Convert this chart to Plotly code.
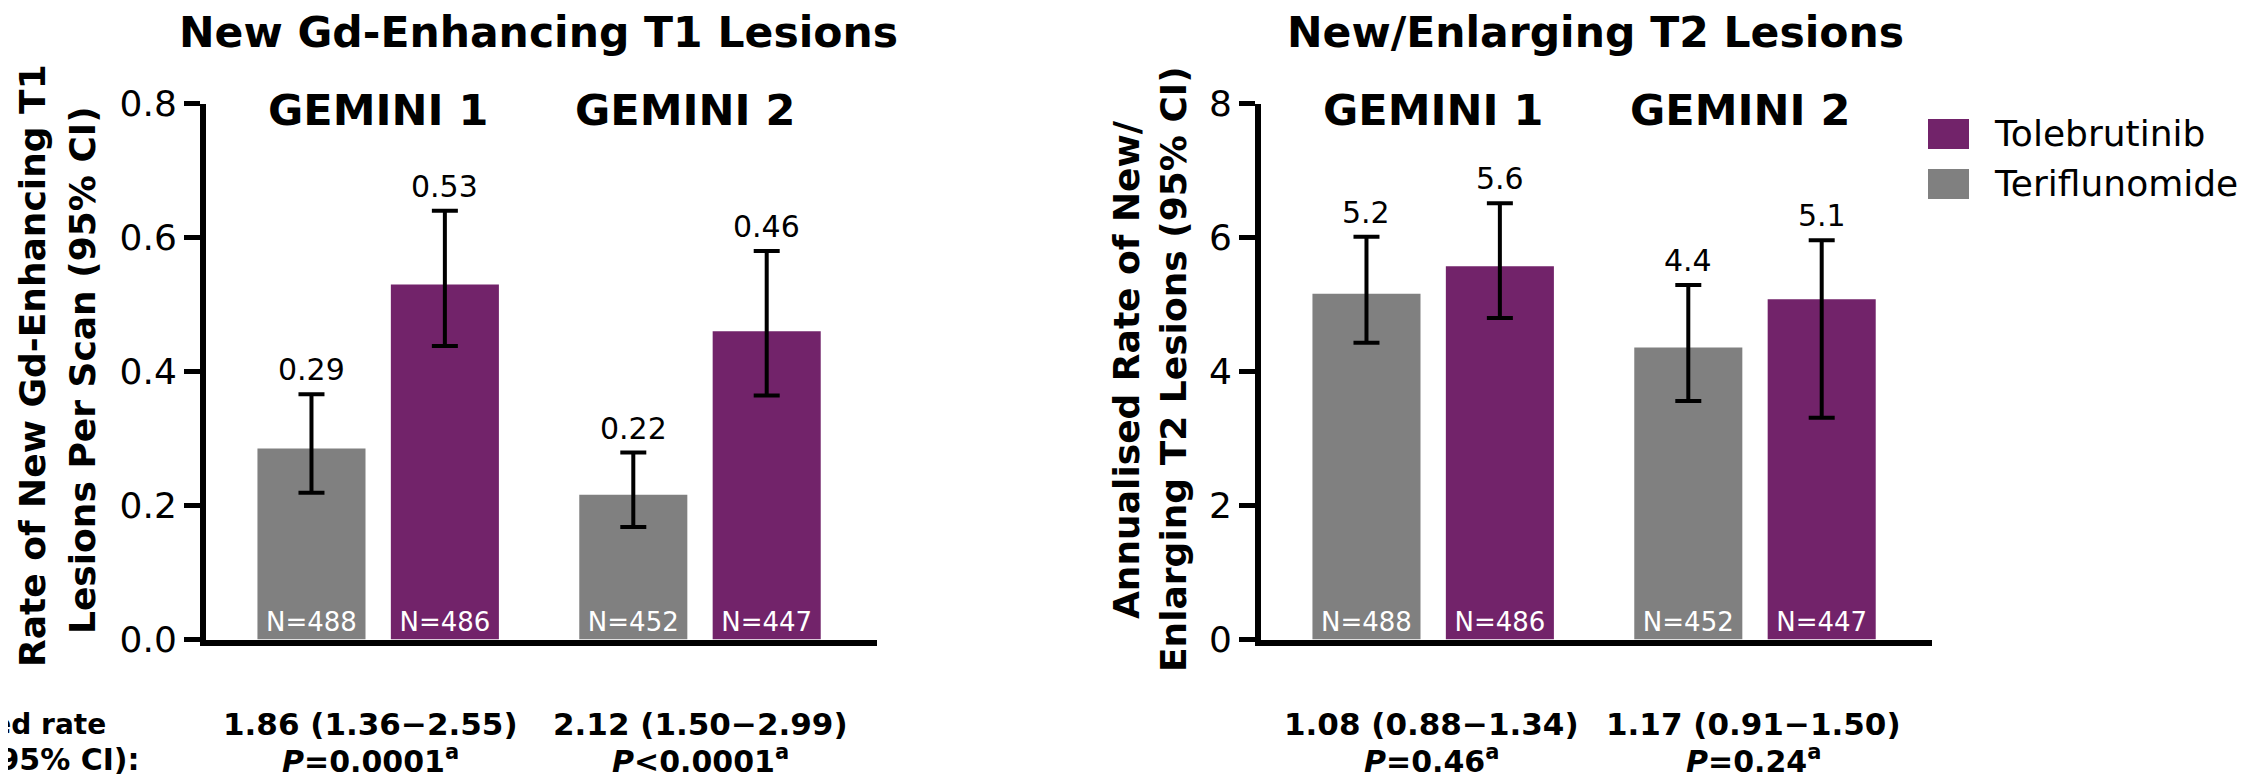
import plotly.graph_objects as go

# ---------------- data ----------------
groups = ["GEMINI 1", "GEMINI 2"]
group_x = [0, 1]
legend_names = ["Tolebrutinib", "Teriflunomide"]

# Panel 1: New Gd-enhancing T1 lesions (rate per scan)
t1_teri = [0.285, 0.216]
t1_teri_lo = [0.219, 0.168]
t1_teri_hi = [0.366, 0.279]
t1_tole = [0.530, 0.460]
t1_tole_lo = [0.438, 0.364]
t1_tole_hi = [0.640, 0.580]
t1_teri_lbl = ["0.29", "0.22"]
t1_tole_lbl = ["0.53", "0.46"]
t1_ratio = ["1.86 (1.36−2.55)", "2.12 (1.50−2.99)"]
t1_p = ["<i>P</i>=0.0001<sup>a</sup>", "<i>P</i>&lt;0.0001<sup>a</sup>"]
t1_tickvals = [0.0, 0.2, 0.4, 0.6, 0.8]
t1_ticktext = ["0.0", "0.2", "0.4", "0.6", "0.8"]

# Panel 2: New/enlarging T2 lesions (annualised rate)
t2_teri = [5.16, 4.36]
t2_teri_lo = [4.43, 3.56]
t2_teri_hi = [6.01, 5.29]
t2_tole = [5.57, 5.08]
t2_tole_lo = [4.80, 3.31]
t2_tole_hi = [6.51, 5.96]
t2_teri_lbl = ["5.2", "4.4"]
t2_tole_lbl = ["5.6", "5.1"]
t2_ratio = ["1.08 (0.88−1.34)", "1.17 (0.91−1.50)"]
t2_p = ["<i>P</i>=0.46<sup>a</sup>", "<i>P</i>=0.24<sup>a</sup>"]
t2_tickvals = [0, 2, 4, 6, 8]
t2_ticktext = ["0", "2", "4", "6", "8"]

n_teri = ["N=488", "N=452"]
n_tole = ["N=486", "N=447"]

# ---------------- style ----------------
W, H = 2248, 776
OFF = 8  # page body margin offset in the photographed window
FONT = "DejaVu Sans"
PURPLE = "#72236A"
GRAY = "#808080"
BARGAP = 0.171
BARGROUPGAP = 0.19
XRANGE = [-0.535, 1.55]


def px(x):
    return (x - OFF) / W


def py(y):
    return 1 - (y - OFF) / H


fig = go.Figure()

panels = [
    dict(xa="x", ya="y", teri=t1_teri, teri_lo=t1_teri_lo, teri_hi=t1_teri_hi,
         tole=t1_tole, tole_lo=t1_tole_lo, tole_hi=t1_tole_hi,
         teri_lbl=t1_teri_lbl, tole_lbl=t1_tole_lbl, ratio=t1_ratio, p=t1_p,
         foot_shift=[-8, 0]),
    dict(xa="x2", ya="y2", teri=t2_teri, teri_lo=t2_teri_lo, teri_hi=t2_teri_hi,
         tole=t2_tole, tole_lo=t2_tole_lo, tole_hi=t2_tole_hi,
         teri_lbl=t2_teri_lbl, tole_lbl=t2_tole_lbl, ratio=t2_ratio, p=t2_p,
         foot_shift=[-2, -2]),
]

annotations = []
off = (1 - BARGAP) / 4  # centre offset of each bar within a group

for pn in panels:
    for vals, lo, hi, col, ntext, name in [
        (pn["teri"], pn["teri_lo"], pn["teri_hi"], GRAY, n_teri, legend_names[1]),
        (pn["tole"], pn["tole_lo"], pn["tole_hi"], PURPLE, n_tole, legend_names[0]),
    ]:
        fig.add_trace(go.Bar(
            x=group_x, y=vals, name=name, showlegend=False,
            xaxis=pn["xa"], yaxis=pn["ya"],
            marker=dict(color=col, line=dict(width=0)),
            text=ntext, textposition="inside", insidetextanchor="start",
            textangle=0, constraintext="none",
            textfont=dict(family=FONT, size=26, color="white"),
            error_y=dict(type="data", symmetric=False,
                         array=[h - v for h, v in zip(hi, vals)],
                         arrayminus=[v - l for v, l in zip(vals, lo)],
                         color="black", thickness=4, width=13),
            hoverinfo="skip",
        ))
    for i, gx in enumerate(group_x):
        # value labels above error bars
        for dx, top, lbl in [(-off, pn["teri_hi"][i], pn["teri_lbl"][i]),
                             (off, pn["tole_hi"][i], pn["tole_lbl"][i])]:
            annotations.append(dict(
                x=gx + dx, y=top, xref=pn["xa"], yref=pn["ya"], text=lbl,
                showarrow=False, xanchor="center", yanchor="bottom", yshift=5,
                font=dict(family=FONT, size=30, color="black")))
        # group headers
        annotations.append(dict(
            x=gx, y=py(110), xref=pn["xa"], yref="paper", text="<b>%s</b>" % groups[i],
            showarrow=False, xanchor="center", yanchor="middle", xshift=-15 * i,
            font=dict(family=FONT, size=43, color="black")))
        # rate ratio + p values
        annotations.append(dict(
            x=gx, y=py(724), xref=pn["xa"], yref="paper", text="<b>%s</b>" % pn["ratio"][i],
            showarrow=False, xanchor="center", yanchor="middle", xshift=pn["foot_shift"][i],
            font=dict(family=FONT, size=31, color="black")))
        annotations.append(dict(
            x=gx, y=py(759), xref=pn["xa"], yref="paper", text="<b>%s</b>" % pn["p"][i],
            showarrow=False, xanchor="center", yanchor="middle", xshift=pn["foot_shift"][i],
            font=dict(family=FONT, size=30, color="black")))

# panel titles
annotations += [
    dict(x=px(538), y=py(32), xref="paper", yref="paper", showarrow=False,
         xanchor="center", yanchor="middle",
         text="<b>New Gd-Enhancing T1 Lesions</b>",
         font=dict(family=FONT, size=42.5, color="black")),
    dict(x=px(1595), y=py(32), xref="paper", yref="paper", showarrow=False,
         xanchor="center", yanchor="middle",
         text="<b>New/Enlarging T2 Lesions</b>",
         font=dict(family=FONT, size=42.5, color="black")),
]

# y-axis titles (two rotated lines each)
for txt, cx, cy in [("Rate of New Gd-Enhancing T1", 32, 366),
                    ("Lesions Per Scan (95% CI)", 82, 370),
                    ("Annualised Rate of New/", 1126, 370),
                    ("Enlarging T2 Lesions (95% CI)", 1173, 369)]:
    annotations.append(dict(
        x=px(cx), y=py(cy), xref="paper", yref="paper", showarrow=False,
        text="<b>%s</b>" % txt, textangle=-90, xanchor="center", yanchor="middle",
        font=dict(family=FONT, size=36, color="black")))

# left-side row label (partially outside the canvas, as in the source)
annotations += [
    dict(x=px(108), y=py(724), xref="paper", yref="paper", showarrow=False,
         xanchor="right", yanchor="middle", text="<b>Adjusted rate</b>",
         font=dict(family=FONT, size=28, color="black")),
    dict(x=px(142), y=py(759), xref="paper", yref="paper", showarrow=False,
         xanchor="right", yanchor="middle", text="<b>ratio (95% CI):</b>",
         font=dict(family=FONT, size=30, color="black")),
]

# manual legend
shapes = []
for k, (name, col) in enumerate(zip(legend_names, [PURPLE, GRAY])):
    y0 = 119 + 50 * k
    shapes.append(dict(type="rect", xref="paper", yref="paper",
                       x0=px(1928), x1=px(1969), y0=py(y0 + 30), y1=py(y0),
                       fillcolor=col, line=dict(width=0)))
    annotations.append(dict(x=px(1992), y=py(y0 + 15), xref="paper", yref="paper",
                            showarrow=False, xanchor="left", yanchor="middle",
                            text=name, font=dict(family=FONT, size=36, color="black")))

axis_common = dict(showline=True, linewidth=6, linecolor="black", showgrid=False,
                   zeroline=False, automargin=False)
ydom = [py(639.5), py(103.5)]

fig.update_layout(
    width=W, height=H, autosize=False,
    margin=dict(l=0, r=0, t=0, b=0, pad=0, autoexpand=False),
    paper_bgcolor="white", plot_bgcolor="white",
    barmode="group", bargap=BARGAP, bargroupgap=BARGROUPGAP,
    showlegend=False,
    font=dict(family=FONT, color="black"),
    xaxis=dict(domain=[px(206), px(877)], range=XRANGE, showticklabels=False,
               ticks="", anchor="y", **axis_common),
    xaxis2=dict(domain=[px(1261), px(1932)], range=XRANGE, showticklabels=False,
                ticks="", anchor="y2", **axis_common),
    yaxis=dict(domain=ydom, range=[0, 0.8], tickvals=t1_tickvals, ticktext=t1_ticktext,
               ticks="outside", ticklen=16, tickwidth=5, tickcolor="black",
               tickfont=dict(family=FONT, size=36, color="black"), anchor="x",
               **axis_common),
    yaxis2=dict(domain=ydom, range=[0, 8], tickvals=t2_tickvals, ticktext=t2_ticktext,
                ticks="outside", ticklen=16, tickwidth=5, tickcolor="black",
                tickfont=dict(family=FONT, size=36, color="black"), anchor="x2",
                **axis_common),
    annotations=annotations,
    shapes=shapes,
)

fig.write_html("out.html")
